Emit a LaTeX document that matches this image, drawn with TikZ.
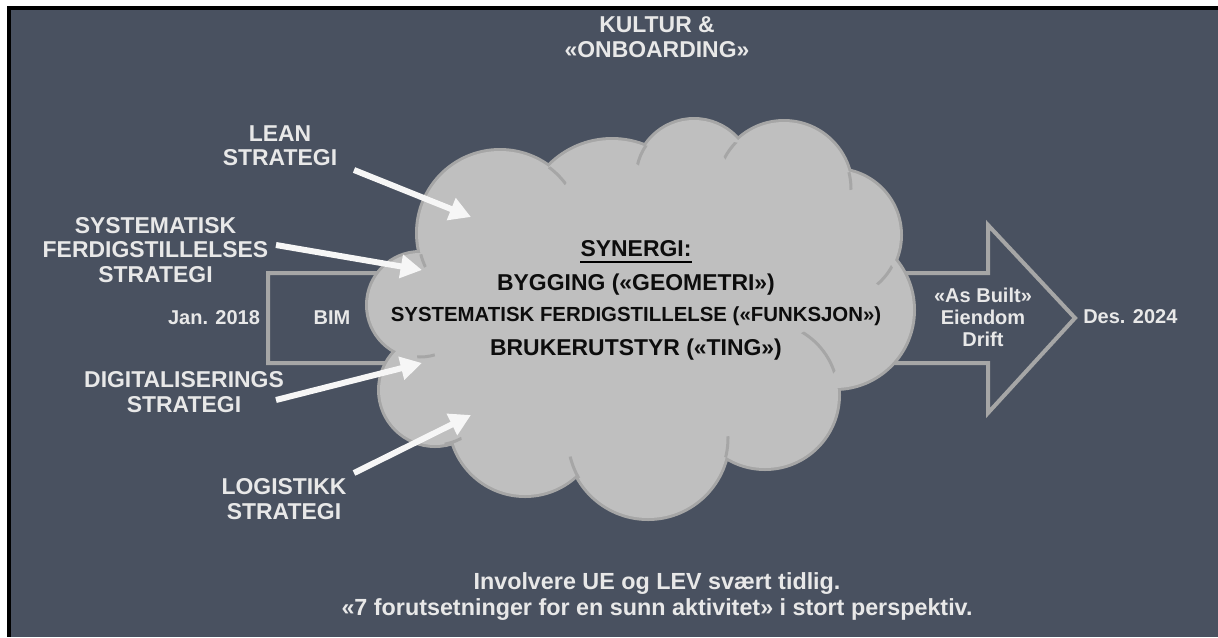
\documentclass[tikz,border=0pt]{standalone}
\usepackage{fontspec}
\setmainfont{Liberation Sans}
\usetikzlibrary{arrows.meta}

\definecolor{slide}{RGB}{73,81,96}
\definecolor{cloudfill}{RGB}{191,191,191}
\definecolor{cloudedge}{RGB}{166,166,166}
\definecolor{labelgrey}{RGB}{232,232,232}
\definecolor{arrowwhite}{RGB}{246,246,246}

\newcommand\labfont{\fontsize{17.2}{18.6}\selectfont\bfseries}
\newcommand\smalllabfont{\fontsize{15}{16.5}\selectfont\bfseries}
\newcommand\midfont{\fontsize{15.3}{16.5}\selectfont\bfseries}

\tikzset{
  stratlabel/.style={text=labelgrey, font=\labfont, align=center, inner sep=0pt, anchor=north},
  smalllabel/.style={text=labelgrey, font=\smalllabfont, align=center, inner sep=0pt, anchor=north},
  cloudtext/.style={text=black!95, font=\labfont, inner sep=0pt, anchor=base},
  whitearrow/.style={draw=arrowwhite, line width=4.5pt, -{Triangle[length=16pt,width=17pt]}},
  blockarrow/.style={draw=cloudedge, line width=3pt, line join=miter},
}

\begin{document}
\begin{tikzpicture}[x=0.75pt, y=-0.75pt]
  \useasboundingbox (0,0) rectangle (1218,637);
  \fill[white] (0,0) rectangle (1218,637);
  \fill[black] (7,6) rectangle (1218,637);
  \fill[slide] (11,10) rectangle (1218,637);

  % big arrow from Jan. 2018 to Des. 2024
  \draw[blockarrow] (268,273) -- (988,273) -- (988,225) -- (1075,318)
    -- (988,413) -- (988,363) -- (268,363) -- cycle;

  % cloud: outlines first, then fill on top
  \foreach \x/\y/\r in {500/233/82, 612/228/88, 694/178/58, 784/189/67, 835/235/65,
      835/310/78, 765/395/73, 648/438/80, 525/420/75, 435/390/55, 420/305/52}
    \draw[cloudedge, line width=4.5pt] (\x,\y) circle (\r);
  \foreach \x/\y/\r in {500/233/82, 612/228/88, 694/178/58, 784/189/67, 835/235/65,
      835/310/78, 765/395/73, 648/438/80, 525/420/75, 435/390/55, 420/305/52}
    \fill[cloudfill] (\x,\y) circle (\r);
  \fill[cloudfill] (500,233) -- (612,228) -- (694,178) -- (784,189) -- (835,235)
    -- (835,310) -- (765,395) -- (648,438) -- (525,420) -- (435,390) -- (420,305) -- cycle;

  % creases inside the cloud
  \foreach \cx/\cy/\cr/\x/\y/\r in {557/176/12/500/233/82, 644/156/11/694/178/58,
      734/153/11/784/189/67, 850/181/9/784/189/67, 883/274/12/835/235/65,
      815/355/26/765/395/73, 729/447/11/648/438/80, 573/468/12/648/438/80,
      453/441/9/435/390/55, 426/356/9/420/305/52, 422/261/7/500/233/82}
  {
    \begin{scope}
      \clip (\cx,\cy) circle (\cr);
      \draw[cloudedge, line width=2.25pt] (\x,\y) circle (\r);
    \end{scope}
  }

  % texts
  \node[stratlabel] (kultur) at (657,16.8) {KULTUR \&\\«ONBOARDING»};
  \node[stratlabel] (lean) at (280,125) {LEAN\\STRATEGI};
  \node[stratlabel] (ferdig) at (155.5,216.8) {SYSTEMATISK\\FERDIGSTILLELSES\\STRATEGI};
  \node[stratlabel] (digital) at (184,371.5) {DIGITALISERINGS\\STRATEGI};
  \node[stratlabel] (logistikk) at (284,478.5) {LOGISTIKK\\STRATEGI};
  \node[stratlabel, font=\fontsize{17.5}{18.6}\selectfont\bfseries] (involvere) at (657,572.5)
    {Involvere UE og LEV svært tidlig.\\[1pt]«7 forutsetninger for en sunn aktivitet» i stort perspektiv.};

  \node[smalllabel] (jan) at (214,310.7) {Jan. 2018};
  \node[smalllabel] (bim) at (332,310.7) {BIM};
  \node[smalllabel] (asbuilt) at (983,287.4) {«As Built»\\Eiendom\\Drift};
  \node[smalllabel, anchor=north west] (des) at (1083,309.7) {Des. 2024};

  \node[cloudtext] (synergi) at (636,256.7) {SYNERGI:};
  \draw[black, line width=1.8pt] ([yshift=-4pt]synergi.base west) -- ([yshift=-4pt]synergi.base east);
  \node[cloudtext] (bygging) at (636,290) {BYGGING («GEOMETRI»)};
  \node[cloudtext, font=\midfont] (funksjon) at (636,321.7) {SYSTEMATISK FERDIGSTILLELSE («FUNKSJON»)};
  \node[cloudtext] (ting) at (636,355) {BRUKERUTSTYR («TING»)};

  % white arrows into the cloud
  \coordinate (leantail) at (354,170);
  \coordinate (leantip) at (471,217);
  \coordinate (ferdigtail) at (276,245);
  \coordinate (ferdigtip) at (422,270);
  \coordinate (digitaltail) at (276,400);
  \coordinate (digitaltip) at (422,363);
  \coordinate (logistikktail) at (354,473);
  \coordinate (logistikktip) at (471,415);
  \draw[whitearrow] (leantail) -- (leantip);
  \draw[whitearrow] (ferdigtail) -- (ferdigtip);
  \draw[whitearrow] (digitaltail) -- (digitaltip);
  \draw[whitearrow] (logistikktail) -- (logistikktip);
\end{tikzpicture}
\end{document}
